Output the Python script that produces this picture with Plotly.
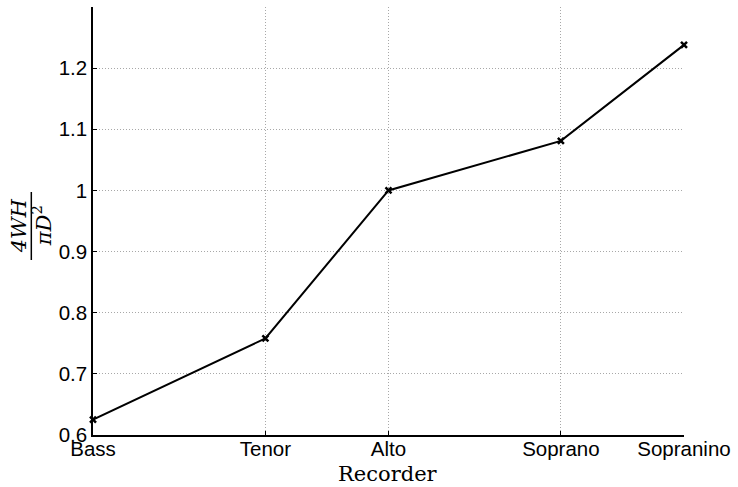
import plotly.graph_objects as go

# Recorder family, positioned by the MIDI number of each instrument's lowest note
recorders = ["Bass", "Tenor", "Alto", "Soprano", "Sopranino"]
lowest_note_midi = [53, 60, 65, 72, 77]  # F3, C4, F4, C5, F5
window_ratio = [0.625, 0.758, 1.0, 1.081, 1.238]  # 4WH / (pi D^2)

y_ticks = [0.6, 0.7, 0.8, 0.9, 1.0, 1.1, 1.2]
y_tick_text = ["0.6", "0.7", "0.8", "0.9", "1", "1.1", "1.2"]

W, H = 738, 487
M_L, M_R, M_T, M_B = 93, 51, 7, 52
plot_w = W - M_L - M_R
plot_h = H - M_T - M_B


def px_to_paper(px, py):
    return (px - M_L) / plot_w, (H - M_B - py) / plot_h


fig = go.Figure(
    go.Scatter(
        x=lowest_note_midi,
        y=window_ratio,
        mode="lines+markers",
        line=dict(color="black", width=2),
        marker=dict(symbol="x-thin", size=6, color="black",
                    line=dict(color="black", width=2.5)),
        showlegend=False,
        cliponaxis=False,
    )
)

grid = dict(showgrid=True, gridcolor="#a8a8a8", gridwidth=1, griddash="1px,2px")
tick_font = dict(family="Liberation Sans, Arial, sans-serif", size=20.5, color="black")

fig.update_xaxes(
    range=[lowest_note_midi[0], lowest_note_midi[-1]],
    tickvals=lowest_note_midi,
    ticktext=recorders,
    ticks="inside", ticklen=4, tickcolor="black",
    ticklabelstandoff=-5,
    showline=True, linecolor="black", linewidth=1.5,
    zeroline=False, tickfont=tick_font, **grid,
)
fig.update_yaxes(
    range=[0.6, 1.3],
    tickvals=y_ticks,
    ticktext=y_tick_text,
    ticks="inside", ticklen=4, tickcolor="black",
    showline=True, linecolor="black", linewidth=1.5,
    zeroline=False, tickfont=tick_font, **grid,
)

serif = "DejaVu Serif, Liberation Serif, serif"

# x-axis title
xt, yt = px_to_paper(389, 474)
annotations = [
    dict(text="Recorder", x=xt, y=yt, xref="paper", yref="paper",
         showarrow=False, xanchor="center", yanchor="middle",
         font=dict(family=serif, size=21, color="black")),
]

# y-axis title: the fraction 4WH / (pi D^2), rotated
xn, yn = px_to_paper(19, 226)
xd, yd = px_to_paper(42, 226)
annotations += [
    dict(text="<i>4WH</i>", x=xn, y=yn, xref="paper", yref="paper",
         showarrow=False, xanchor="center", yanchor="middle", textangle=-90,
         font=dict(family=serif, size=21, color="black")),
    dict(text="<i>πD</i><sup>2</sup>", x=xd, y=yd, xref="paper", yref="paper",
         showarrow=False, xanchor="center", yanchor="middle", textangle=-90,
         font=dict(family=serif, size=21, color="black")),
]
x0, y0 = px_to_paper(31, 192)
x1, y1 = px_to_paper(31, 260)
shapes = [dict(type="line", xref="paper", yref="paper", x0=x0, y0=y0, x1=x1, y1=y1,
               line=dict(color="black", width=1.5))]

fig.update_layout(
    width=W, height=H,
    margin=dict(l=M_L, r=M_R, t=M_T, b=M_B),
    paper_bgcolor="white", plot_bgcolor="white",
    annotations=annotations, shapes=shapes,
)

fig.write_html("out.html")
